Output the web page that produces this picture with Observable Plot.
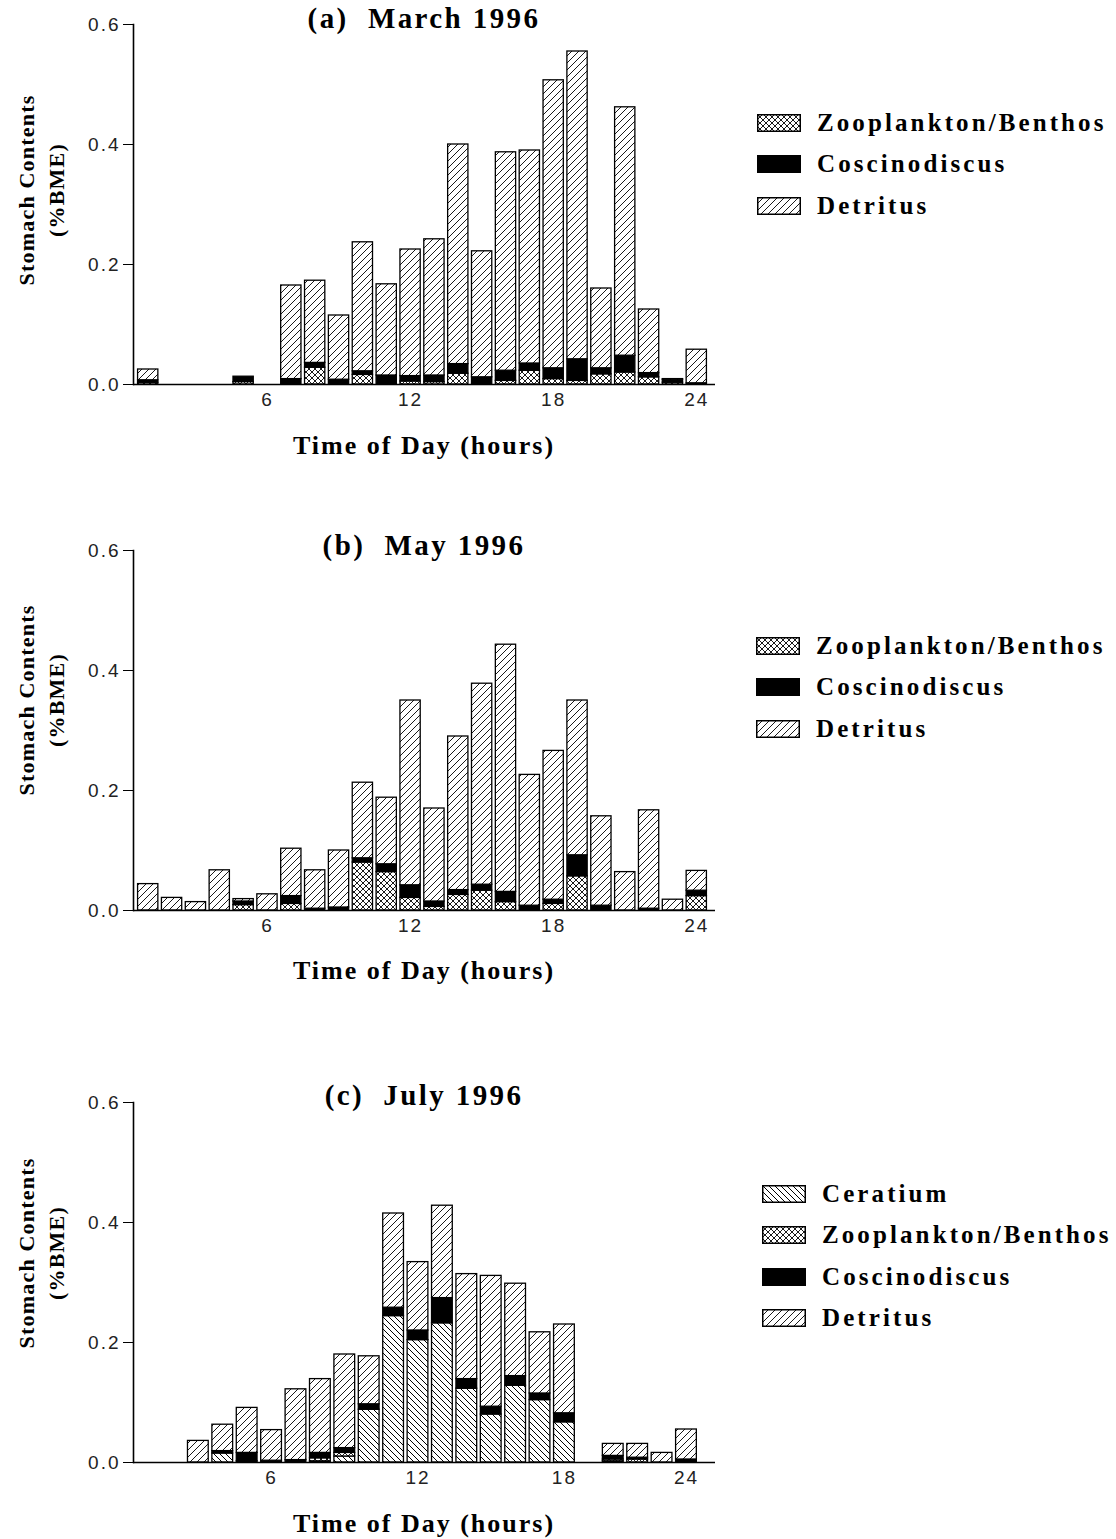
<!DOCTYPE html>
<html>
<head>
<meta charset="utf-8">
<script src="https://cdn.jsdelivr.net/npm/d3@7"></script>
<script src="https://cdn.jsdelivr.net/npm/@observablehq/plot@0.6"></script>
<style>
  body { margin: 0; background: #fff; }
  #root { position: relative; width: 1116px; height: 1539px; overflow: hidden; background: #fff;
          font-family: "Liberation Serif", "Times New Roman", serif; color: #000; }
  .abs { position: absolute; }
  .title { font-weight: bold; font-size: 29px; letter-spacing: 2.4px; white-space: pre; text-align: center; width: 500px; line-height: 30px; }
  .xlab { font-weight: bold; font-size: 26px; letter-spacing: 2px; white-space: pre; text-align: center; width: 500px; line-height: 30px; }
  .ylab { font-weight: bold; font-size: 22px; letter-spacing: 1.2px; white-space: pre; text-align: center; line-height: 30px;
          transform: translate(-50%, -50%) rotate(-90deg); }
  .legend { font-weight: bold; font-size: 25px; letter-spacing: 3.1px; white-space: pre; }
  .legend .row { display: flex; align-items: center; height: 41.5px; }
  .legend svg { margin-right: 16px; flex: none; }
</style>
</head>
<body>
<svg width="0" height="0" style="position:absolute">
  <defs>
    <pattern id="pDet" patternUnits="userSpaceOnUse" width="7" height="7">
      <rect width="7" height="7" fill="#fff"/>
      <path d="M-1,1 L1,-1 M0,7 L7,0 M6,8 L8,6" stroke="#000" stroke-width="0.9"/>
    </pattern>
    <pattern id="pCer" patternUnits="userSpaceOnUse" width="6" height="6">
      <rect width="6" height="6" fill="#fff"/>
      <path d="M-1,5 L1,7 M0,0 L6,6 M5,-1 L7,1" stroke="#000" stroke-width="1"/>
    </pattern>
    <pattern id="pZoo" patternUnits="userSpaceOnUse" width="6" height="6">
      <rect width="6" height="6" fill="#fff"/>
      <path d="M0,0 L6,6 M0,6 L6,0" stroke="#000" stroke-width="0.9"/>
    </pattern>
  </defs>
</svg>
<div id="root"></div>
<script>
// ---------- data ----------
const hours = d3.range(1, 25); // 1..24
const slotsAB = d3.range(1, 25);                       // March, May categories
const slotsC = d3.range(1, 25).filter(h => h !== 19);  // July categories (no hour 19)
const tickHours = [6, 12, 18, 24];
const yTicks = [0, 0.2, 0.4, 0.6];

const titles = ["(a)  March 1996", "(b)  May 1996", "(c)  July 1996"];
const xTitle = "Time of Day (hours)";
const yTitle = "Stomach Contents\n(%BME)";

const catsAB = ["Zooplankton/Benthos", "Coscinodiscus", "Detritus"];
const catsC = ["Ceratium", "Zooplankton/Benthos", "Coscinodiscus", "Detritus"];

// March 1996 (hours 1..24; null = no sample)
const marchZoop = [0.003, null, null, null, 0.004, null, 0, 0.028, 0, 0.016, 0, 0.005, 0.004, 0.018, 0, 0.006, 0.023, 0.009, 0.006, 0.017, 0.020, 0.012, 0.003, 0];
const marchCosc = [0.004, null, null, null, 0.009, null, 0.009, 0.008, 0.008, 0.006, 0.015, 0.009, 0.011, 0.016, 0.012, 0.017, 0.012, 0.018, 0.036, 0.010, 0.028, 0.007, 0.005, 0.002];
const marchDet  = [0.018, null, null, null, 0, null, 0.156, 0.137, 0.107, 0.215, 0.152, 0.211, 0.227, 0.366, 0.210, 0.364, 0.355, 0.480, 0.513, 0.133, 0.414, 0.106, 0.001, 0.056];

// May 1996
const mayZoop = [0, 0, 0, 0, 0.009, 0, 0.011, 0, 0, 0.080, 0.064, 0.021, 0.006, 0.026, 0.033, 0.014, 0, 0.011, 0.057, 0, 0, 0, 0, 0.024];
const mayCosc = [0, 0, 0, 0, 0.006, 0, 0.013, 0.003, 0.005, 0.007, 0.013, 0.021, 0.009, 0.008, 0.010, 0.017, 0.008, 0.007, 0.035, 0.008, 0, 0.003, 0, 0.009];
const mayDet  = [0.044, 0.021, 0.014, 0.067, 0.004, 0.027, 0.079, 0.064, 0.095, 0.126, 0.111, 0.308, 0.155, 0.256, 0.335, 0.412, 0.218, 0.248, 0.258, 0.149, 0.064, 0.164, 0.018, 0.033];

// July 1996
const julyCer  = [null, null, 0, 0.015, 0.002, 0, 0, 0.002, 0.010, 0.088, 0.244, 0.204, 0.232, 0.123, 0.080, 0.128, 0.104, 0.067, null, null, 0.002, 0, 0, 0];
const julyZoop = [null, null, 0, 0, 0, 0, 0, 0.005, 0.006, 0, 0, 0, 0, 0, 0, 0, 0, 0, null, null, 0.003, 0.005, 0, 0];
const julyCosc = [null, null, 0, 0.004, 0.014, 0.003, 0.004, 0.009, 0.008, 0.009, 0.014, 0.016, 0.042, 0.016, 0.013, 0.016, 0.011, 0.015, null, null, 0.006, 0.003, 0, 0.005];
const julyDet  = [null, null, 0.036, 0.044, 0.075, 0.051, 0.118, 0.123, 0.156, 0.080, 0.157, 0.114, 0.154, 0.175, 0.218, 0.154, 0.102, 0.148, null, null, 0.020, 0.023, 0.016, 0.050];

// ---------- styles ----------
const fillFor = {
  "Ceratium": "url(#pCer)",
  "Zooplankton/Benthos": "url(#pZoo)",
  "Coscinodiscus": "#000",
  "Detritus": "url(#pDet)"
};

function rows(series) {
  const out = [];
  hours.forEach((h, i) => {
    for (const s of series) {
      const v = s.values[i];
      if (v != null) out.push({hour: h, cat: s.cat, value: v});
    }
  });
  return out;
}

const panels = [
  {top: 0, slots: slotsAB, range: [134, 710], cats: catsAB,
   data: rows([{cat: catsAB[0], values: marchZoop}, {cat: catsAB[1], values: marchCosc}, {cat: catsAB[2], values: marchDet}]),
   titleTop: 3, xlabTop: 431, ylabY: 190, legendLeft: 757, legendTop: 102},
  {top: 526, slots: slotsAB, range: [134, 710], cats: catsAB,
   data: rows([{cat: catsAB[0], values: mayZoop}, {cat: catsAB[1], values: mayCosc}, {cat: catsAB[2], values: mayDet}]),
   titleTop: 530, xlabTop: 956, ylabY: 700, legendLeft: 756, legendTop: 625},
  {top: 1078, slots: slotsC, range: [135, 700], cats: catsC,
   data: rows([{cat: catsC[0], values: julyCer}, {cat: catsC[1], values: julyZoop}, {cat: catsC[2], values: julyCosc}, {cat: catsC[3], values: julyDet}]),
   titleTop: 1080, xlabTop: 1509, ylabY: 1253, legendLeft: 762, legendTop: 1173}
];

const root = document.getElementById("root");

panels.forEach((p, i) => {
  const plot = Plot.plot({
    width: 740, height: 414,
    marginLeft: 133, marginRight: 25, marginTop: 24, marginBottom: 30,
    style: {fontFamily: "'Liberation Sans', Arial, sans-serif", fontSize: "19px", letterSpacing: "2px",
            color: "#222", background: "transparent", overflow: "visible"},
    x: {type: "band", domain: p.slots, range: p.range, paddingInner: 0.15, paddingOuter: 0.15, round: false},
    y: {domain: [0, 0.6]},
    color: {type: "ordinal", domain: p.cats, range: p.cats.map(c => fillFor[c])},
    marks: [
      Plot.barY(p.data, {x: "hour", y: "value", fill: "cat", stroke: "#000", strokeWidth: 1.3}),
      Plot.ruleY([0], {stroke: "#000", strokeWidth: 1.6}),
      Plot.frame({anchor: "left", stroke: "#000", strokeWidth: 1.6}),
      Plot.axisY({ticks: yTicks, tickFormat: d3.format(".1f"), tickSize: 10, tickPadding: 3, label: null, stroke: "#000"}),
      Plot.axisX({ticks: tickHours, tickSize: 0, tickPadding: 8, label: null})
    ]
  });
  const wrap = document.createElement("div");
  wrap.className = "abs";
  wrap.style.left = "0px";
  wrap.style.top = p.top + "px";
  wrap.appendChild(plot);
  root.appendChild(wrap);

  const t = document.createElement("div");
  t.className = "abs title";
  t.style.left = (424 - 250) + "px";
  t.style.top = p.titleTop + "px";
  t.textContent = titles[i];
  root.appendChild(t);

  const xl = document.createElement("div");
  xl.className = "abs xlab";
  xl.style.left = (424 - 250) + "px";
  xl.style.top = p.xlabTop + "px";
  xl.textContent = xTitle;
  root.appendChild(xl);

  const yl = document.createElement("div");
  yl.className = "abs ylab";
  yl.style.left = "42px";
  yl.style.top = p.ylabY + "px";
  yl.textContent = yTitle;
  root.appendChild(yl);

  const lg = document.createElement("div");
  lg.className = "abs legend";
  lg.style.left = p.legendLeft + "px";
  lg.style.top = p.legendTop + "px";
  p.cats.forEach(c => {
    const row = document.createElement("div");
    row.className = "row";
    row.innerHTML = `<svg width="44" height="18"><rect x="0.75" y="0.75" width="42.5" height="16.5" fill="${fillFor[c]}" stroke="#000" stroke-width="1.5"/></svg><span>${c}</span>`;
    lg.appendChild(row);
  });
  root.appendChild(lg);
});
</script>
</body>
</html>
